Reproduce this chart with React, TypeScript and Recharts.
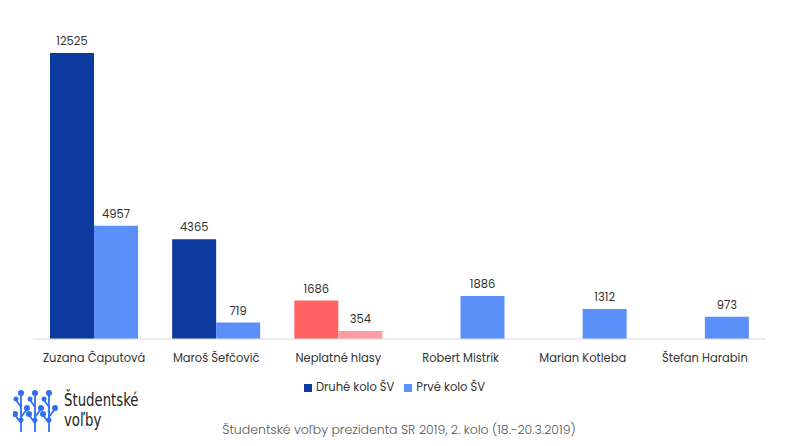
import React from "react";
import { BarChart, Bar, XAxis, YAxis, Cell, LabelList, Legend } from "recharts";

const candidates = [
  "Zuzana Čaputová",
  "Maroš Šefčovič",
  "Neplatné hlasy",
  "Robert Mistrík",
  "Marian Kotleba",
  "Štefan Harabin",
];
const secondRound = [12525, 4365, 1686, null, null, null];
const firstRound = [4957, 719, 354, 1886, 1312, 973];

const data = candidates.map((name, i) => ({
  name,
  second: secondRound[i],
  first: firstRound[i],
}));

const DARK = "#0c3a9e";
const LIGHT = "#5b8ff9";
const RED = "#ff6361";
const PINK = "#ff9aa2";
const FONT = "Poppins, 'Open Sans', sans-serif";

function Logo() {
  const branches = [8, 22, 36];
  return (
    <div style={{ position: "absolute", left: 13, top: 387, display: "flex", alignItems: "center" }}>
      <svg width={46} height={46} viewBox="0 0 46 46">
        {branches.map((x) => (
          <g key={x} stroke="#2f6ff0" strokeWidth={1.8} fill="none">
            <line x1={x} y1={45} x2={x} y2={8} />
            <line x1={x} y1={36} x2={x - 6} y2={28} />
            <line x1={x} y1={30} x2={x + 6} y2={22} />
            <line x1={x} y1={20} x2={x - 5} y2={13} />
          </g>
        ))}
        {branches.map((x) => (
          <g key={"c" + x} fill="#2f6ff0">
            <circle cx={x} cy={6} r={3} />
            <circle cx={x - 6} cy={27} r={3} />
            <circle cx={x + 6} cy={21} r={3} />
            <circle cx={x - 5} cy={12} r={2.5} />
            <circle cx={x} cy={33} r={2.5} />
          </g>
        ))}
      </svg>
      <div
        style={{
          marginLeft: 5,
          fontFamily: "'DejaVu Sans Condensed', 'Liberation Sans', sans-serif",
          fontSize: 18,
          lineHeight: "20px",
          color: "#222",
          transform: "scaleX(0.82)",
          transformOrigin: "left center",
        }}
      >
        Študentské
        <br />
        voľby
      </div>
    </div>
  );
}

export default function App() {
  return (
    <div style={{ position: "fixed", left: 0, top: 0, width: 798, height: 446, background: "#fff", fontFamily: FONT }}>
      <BarChart
        width={798}
        height={446}
        data={data}
        margin={{ top: 53, right: 32, left: 33, bottom: 60 }}
        barCategoryGap={17}
        barGap={0}
      >
        <XAxis
          dataKey="name"
          axisLine={{ stroke: "#d9d9d9" }}
          tickLine={false}
          tick={{ fill: "#333", fontSize: 11.5, fontFamily: FONT }}
          tickMargin={9}
          height={30}
        />
        <YAxis hide domain={[0, "dataMax"]} />
        <Legend
          verticalAlign="bottom"
          align="center"
          iconType="square"
          iconSize={8}
          wrapperStyle={{ top: 379, fontSize: 11.5, fontFamily: FONT }}
          formatter={(v) => <span style={{ color: "#333" }}>{v}</span>}
        />
        <Bar dataKey="second" name="Druhé kolo ŠV" fill={DARK} isAnimationActive={false}>
          {data.map((d, i) => (
            <Cell key={i} fill={d.name === "Neplatné hlasy" ? RED : DARK} />
          ))}
          <LabelList dataKey="second" position="top" fill="#333" fontSize={11.5} offset={8} />
        </Bar>
        <Bar dataKey="first" name="Prvé kolo ŠV" fill={LIGHT} isAnimationActive={false}>
          {data.map((d, i) => (
            <Cell key={i} fill={d.name === "Neplatné hlasy" ? PINK : LIGHT} />
          ))}
          <LabelList dataKey="first" position="top" fill="#333" fontSize={11.5} offset={8} />
        </Bar>
      </BarChart>
      <Logo />
      <div
        style={{
          position: "absolute",
          left: 0,
          width: 798,
          top: 421,
          textAlign: "center",
          fontSize: 12.5,
          color: "#555",
          fontWeight: 300,
        }}
      >
        Študentské voľby prezidenta SR 2019, 2. kolo (18.-20.3.2019)
      </div>
    </div>
  );
}
